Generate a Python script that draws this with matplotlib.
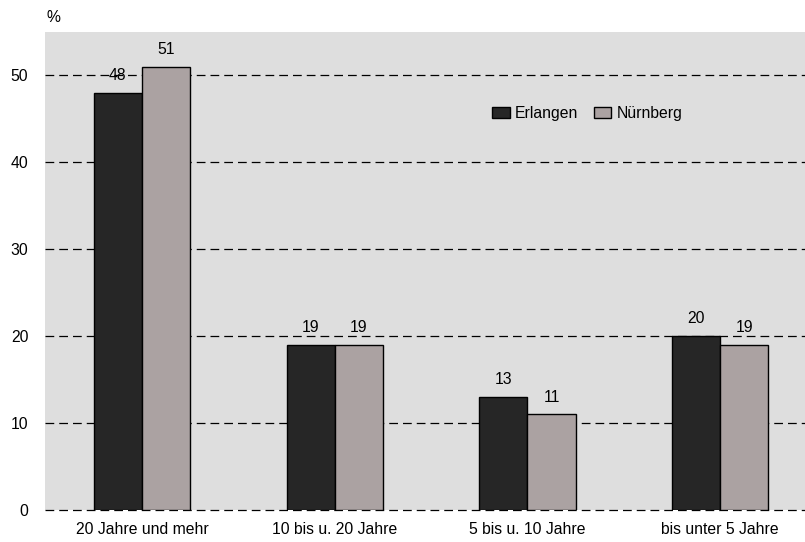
import matplotlib
matplotlib.use("Agg")
import matplotlib.pyplot as plt
import numpy as np

categories = ["20 Jahre und mehr", "10 bis u. 20 Jahre", "5 bis u. 10 Jahre", "bis unter 5 Jahre"]
erlangen = [48, 19, 13, 20]
nuernberg = [51, 19, 11, 19]
yticks = [0, 10, 20, 30, 40, 50]

plt.rcParams['font.family'] = ['Liberation Sans', 'DejaVu Sans']
FS = 11.3

fig = plt.figure(figsize=(8.05, 5.42), dpi=100)
ax = fig.add_axes([45/805, 1-510/542, 760/805, (510-32)/542])
ax.set_facecolor('#dedede')
for s in ax.spines.values():
    s.set_visible(False)

x = np.arange(len(categories))
w = 0.25
ax.set_axisbelow(True)
ax.yaxis.grid(True, linestyle=(0, (7, 4)), color='black', linewidth=0.9)
for gl in ax.get_ygridlines():
    gl.set_clip_on(False)
b1 = ax.bar(x - w/2, erlangen, w, color='#262626', edgecolor='black', linewidth=1, label='Erlangen', zorder=2)
b2 = ax.bar(x + w/2, nuernberg, w, color='#aba2a2', edgecolor='black', linewidth=1, label='Nürnberg', zorder=2)

for bars, vals in ((b1, erlangen), (b2, nuernberg)):
    for r, v in zip(bars, vals):
        ax.annotate(str(v), (r.get_x() + r.get_width()/2, v), xytext=(0, 7),
                    textcoords='offset points', ha='center', va='bottom', fontsize=FS, zorder=3)

ax.set_xlim(-0.503, 3.44)
ax.set_ylim(0, 55)
ax.set_yticks(yticks)
ax.set_xticks(x)
ax.set_xticklabels(categories)
ax.tick_params(axis='both', length=0, labelsize=FS)
ax.tick_params(axis='y', pad=12)
ax.tick_params(axis='x', pad=9)

ax.legend(loc='upper left', bbox_to_anchor=(0.57, 0.875), ncol=2, frameon=False,
          fontsize=FS, handlelength=1.1, handleheight=0.75, handletextpad=0.35, columnspacing=1.0)

fig.text(53/805, 1 - 18/542, '%', fontsize=FS, ha='center', va='center')

fig.savefig('out.png', dpi=100)
